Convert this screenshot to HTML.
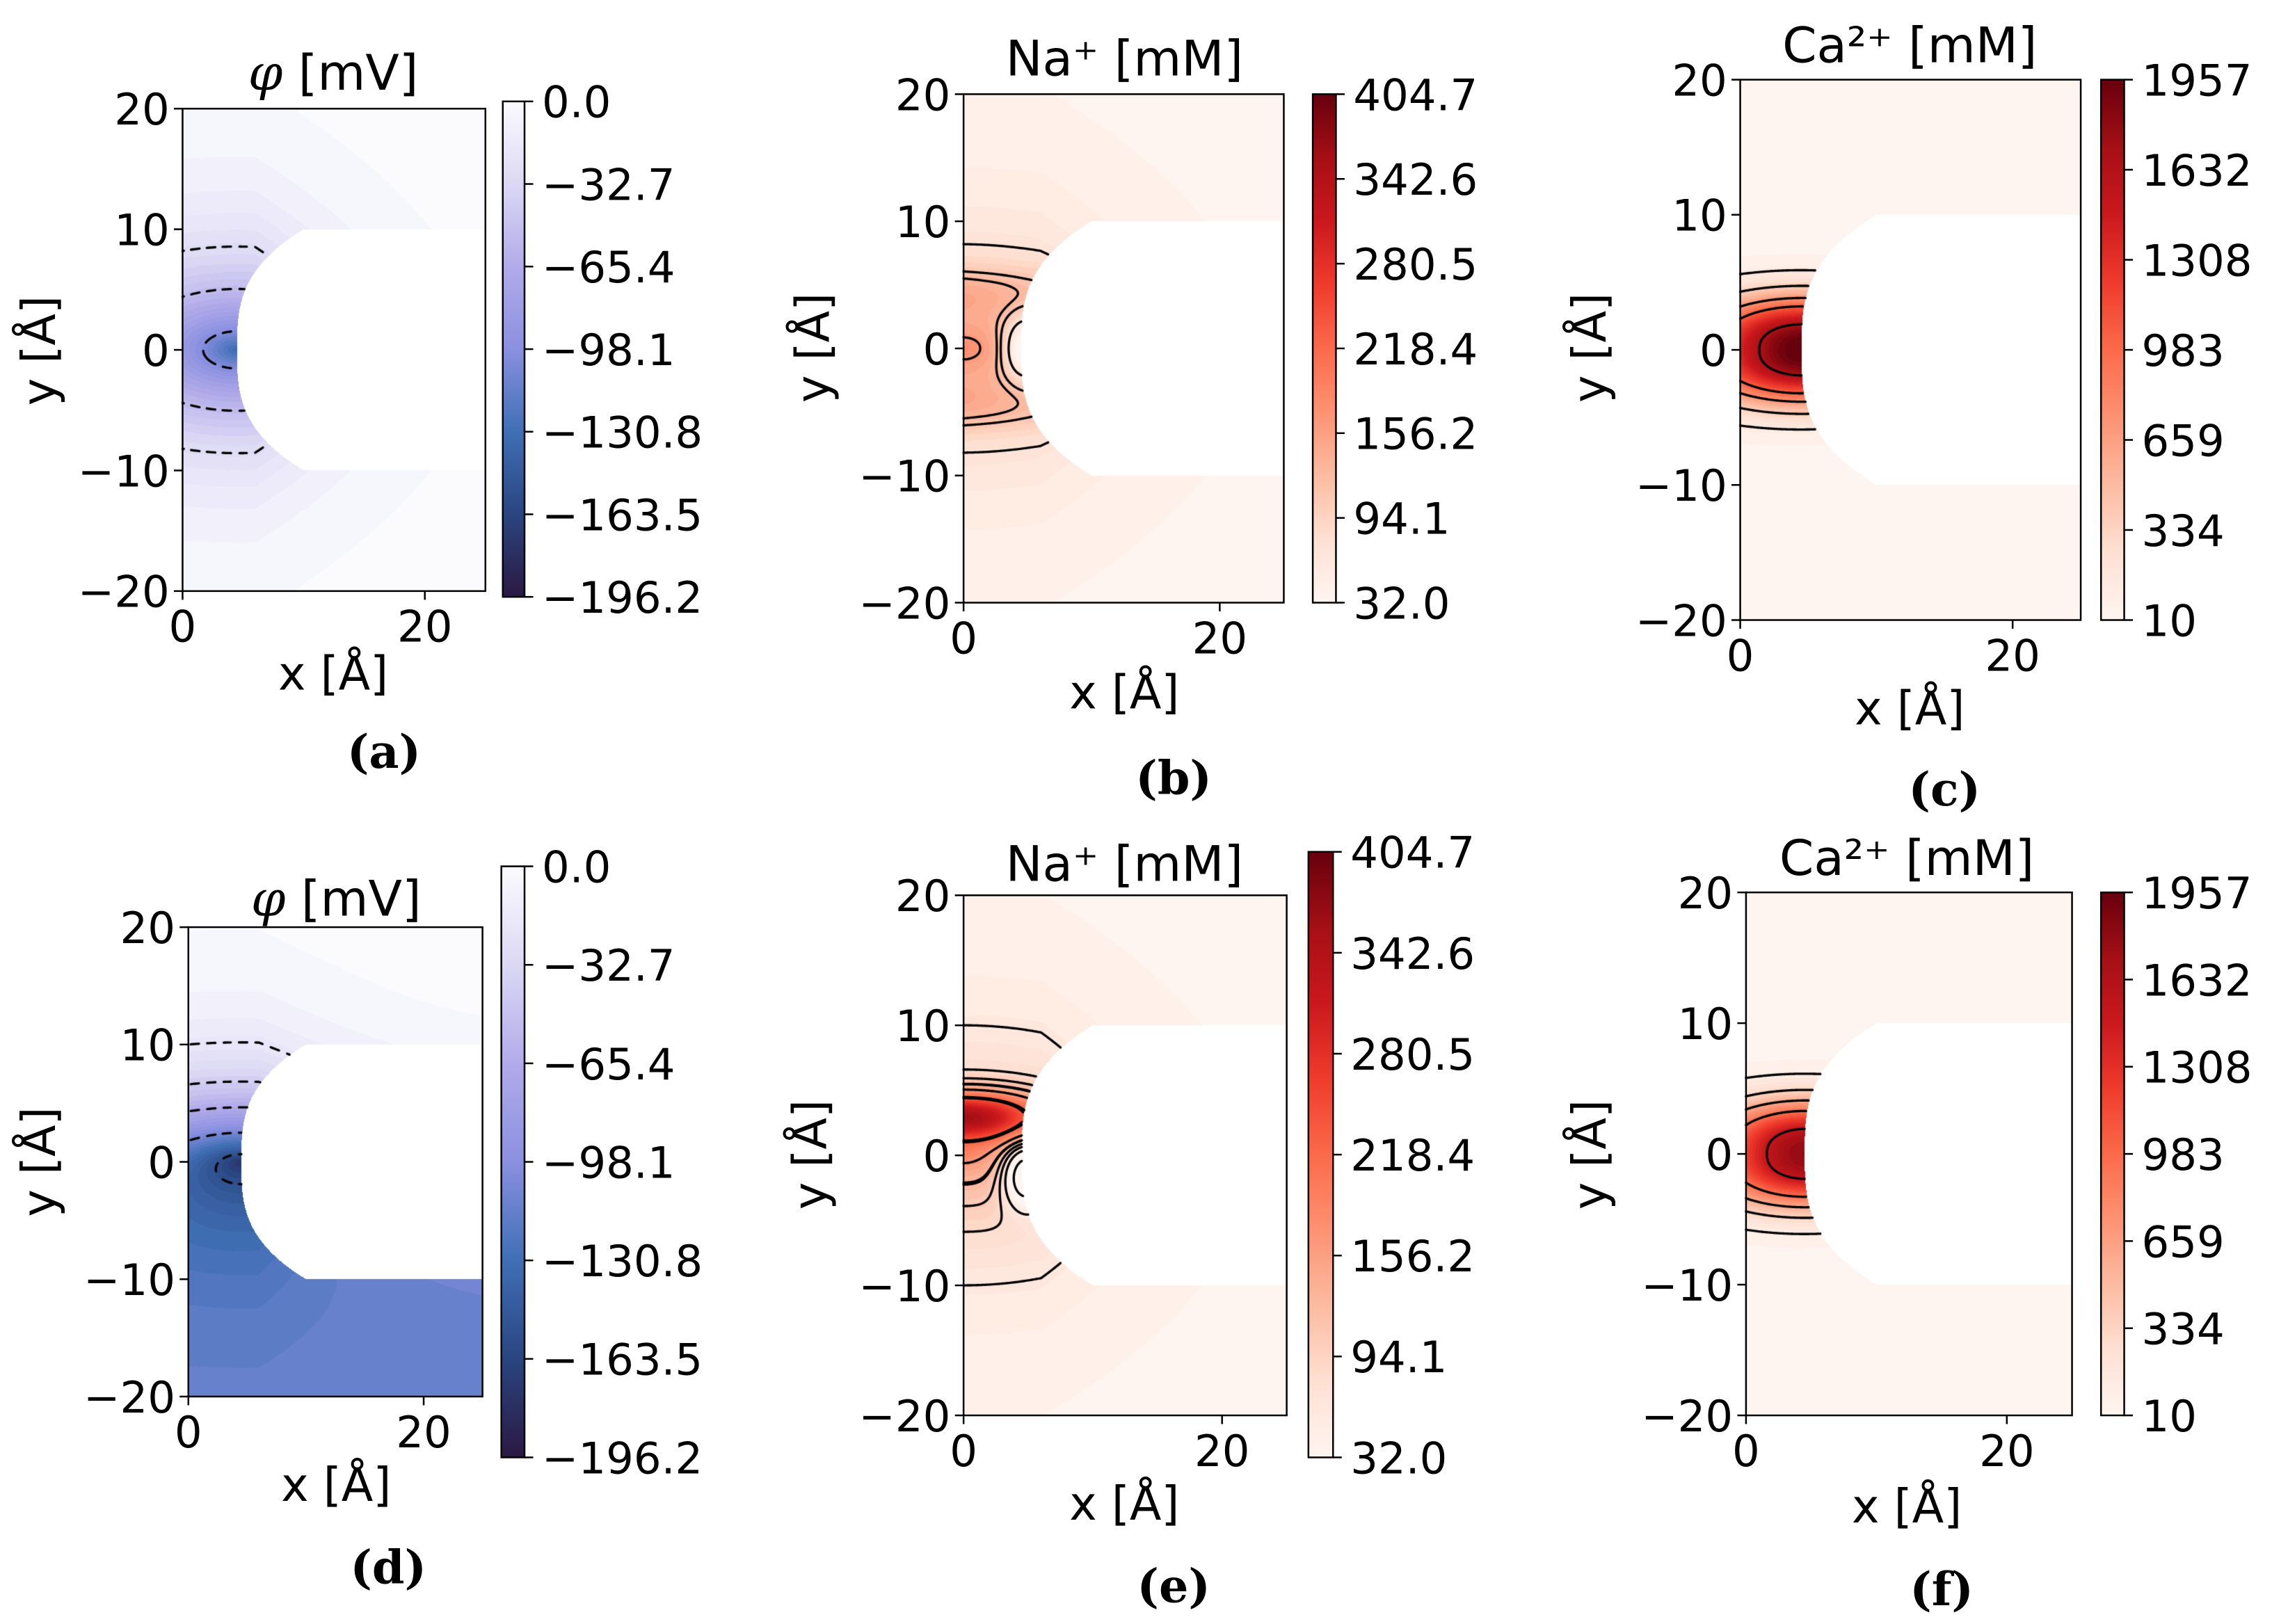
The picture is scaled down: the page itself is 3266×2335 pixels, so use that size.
<!DOCTYPE html>
<html><head><meta charset="utf-8">
<style>
html,body{margin:0;padding:0;background:#fff;}
#wrap{position:relative;width:3266px;height:2335px;overflow:hidden;}
canvas,svg{position:absolute;left:0;top:0;}
text{font-family:"DejaVu Sans","Liberation Sans",sans-serif;fill:#000;}
.tk{font-size:30px;}
.lab{font-size:32px;}
.ttl{font-size:34px;}
.pl{font-family:"DejaVu Serif","Liberation Serif",serif;font-size:32px;font-weight:bold;}
</style></head>
<body>
<div id="wrap">
<canvas id="cv" width="3266" height="2335"></canvas>
<svg id="sv" width="3266" height="2335" viewBox="0 0 1568 1121" preserveAspectRatio="none"></svg>
</div>
<script>
// ---- data ----
const panelIds = ['a','b','c','d','e','f'];
const panelTitles = ['φ [mV]','Na⁺ [mM]','Ca²⁺ [mM]','φ [mV]','Na⁺ [mM]','Ca²⁺ [mM]'];
const phiTicks = ['0.0','−32.7','−65.4','−98.1','−130.8','−163.5','−196.2'];
const naTicks = ['404.7','342.6','280.5','218.4','156.2','94.1','32.0'];
const caTicks = ['1957','1632','1308','983','659','334','10'];
const yTicks = [20,10,0,-10,-20];
const xTicks = [0,20];
const vRangeA = [-196.2,0], vRangeB=[32,404.7], vRangeC=[10,1957];
// contour anchor points (x,y in Å) where level lines pass
const anchorsA = [[0,8.2],[0,4.4],[1.7,0],[4.2,0]];
const anchorsB = [[0,8.2],[0,5.5],[0.5,0.8],[2.9,0]];
const anchorsC = [[0,5.6],[0,4.3],[0,3.2],[0,2.3],[1.4,0]];
const anchorsD = [[0,10],[0,6.6],[0,4.3],[0,1.8],[2.6,0]];
const anchorsE = [[0,10],[0,6.6],[0,5.5],[0,4.4],[0,1],[0,-0.6],[0,-2.1],[2.4,-2],[3.9,-1.5]];
const anchorsF = [[0,5.8],[0,4.4],[0,3.4],[0,2.2],[1.6,0]];

const S = 3266/1568;
const panels = [
 {id:'a',ax:[126,335,75,408],cb:[347,362,70,412],vr:vRangeA,cm:'blue',ticks:phiTicks,anch:anchorsA,dash:true,title:[230,62],xl:[230,476],yl:[38,242],pl:[265,530]},
 {id:'b',ax:[665,886,65,416],cb:[906,922,65,416],vr:vRangeB,cm:'red',ticks:naTicks,anch:anchorsB,dash:false,title:[776,52],xl:[776,489],yl:[572,240],pl:[810,548]},
 {id:'c',ax:[1201,1436,55,428],cb:[1450,1466,55,428],vr:vRangeC,cm:'red',ticks:caTicks,anch:anchorsC,dash:false,title:[1318,43],xl:[1318,500],yl:[1108,240],pl:[1342,556]},
 {id:'d',ax:[130,333,640,964],cb:[346,362,598,1006],vr:vRangeA,cm:'blue',ticks:phiTicks,anch:anchorsD,dash:true,title:[232,632],xl:[232,1036],yl:[38,802],pl:[268,1093]},
 {id:'e',ax:[665,888,618,977],cb:[903,920,588,1006],vr:vRangeB,cm:'red',ticks:naTicks,anch:anchorsE,dash:false,title:[776,608],xl:[776,1049],yl:[570,797],pl:[810,1106]},
 {id:'f',ax:[1205,1430,616,977],cb:[1450,1466,616,977],vr:vRangeC,cm:'red',ticks:caTicks,anch:anchorsF,dash:false,title:[1316,604],xl:[1316,1051],yl:[1108,797],pl:[1340,1108]}
];
const blueStops=[[0,'#2b1843'],[0.167,'#2a4580'],[0.333,'#3f6fb5'],[0.5,'#8a90e0'],[0.667,'#b2abea'],[0.833,'#dcd8f4'],[1,'#fbfbfe']];
const redStops=[[0,'#fff5f0'],[0.125,'#fee0d2'],[0.25,'#fcbba1'],[0.375,'#fc9272'],[0.5,'#fb6a4a'],[0.625,'#ef3b2c'],[0.75,'#cb181d'],[0.875,'#a50f15'],[1,'#67000d']];

function hex(h){return [parseInt(h.substr(1,2),16),parseInt(h.substr(3,2),16),parseInt(h.substr(5,2),16)];}
function cmap(stops,t){t=Math.max(0,Math.min(1,t));for(let i=1;i<stops.length;i++){if(t<=stops[i][0]){const a=stops[i-1],b=stops[i];const u=(t-a[0])/(b[0]-a[0]);const A=hex(a[1]),B=hex(b[1]);return [A[0]+(B[0]-A[0])*u,A[1]+(B[1]-A[1])*u,A[2]+(B[2]-A[2])*u];}}return hex(stops[stops.length-1][1]);}
function bnd(y){const a=Math.abs(y);return 4.5+5.5*Math.pow(a/10,3);}
function masked(x,y){return Math.abs(y)<10 && x>bnd(y);}
const fields={
 a:(x,y)=>{const r=Math.sqrt(Math.pow((x-4.5)*0.55,2)+y*y)+Math.max(0,x-6)*0.6;return -135*Math.exp(-r/5.5);},
 d:(x,y)=>{const r=Math.sqrt(Math.pow((x-4.5)*0.5,2)+y*y)+Math.max(0,x-6)*0.5;return -112/(1+Math.exp(y/3))-120*Math.exp(-r/5);},
 b:(x,y)=>{const r=Math.sqrt(x*x*0.3+y*y)+Math.max(0,x-6)*0.5;return 32+150*Math.exp(-r/6)+45*Math.exp(-Math.pow(Math.abs(y)-4.5,2)/4)*Math.exp(-x/15)-120*Math.exp(-((x-4.8)*(x-4.8)+y*y/2)/3);},
 e:(x,y)=>{const r=Math.sqrt(x*x*0.3+y*y)+Math.max(0,x-6)*0.5;return 32+140*Math.exp(-r/6)+240*Math.exp(-Math.pow(y-3,2)/3.5-x*x/40)-150*Math.exp(-((x-4.8)*(x-4.8)+Math.pow(y+1.5,2)/2)/3);},
 c:(x,y)=>10+1950*Math.exp(-(x-4.6)*(x-4.6)/55)*Math.exp(-Math.pow(Math.abs(y)/3.8,2.5))+50*Math.exp(-(Math.sqrt(x*x/4+y*y)+Math.max(0,x-6)*0.5)/4),
 f:(x,y)=>10+1750*Math.exp(-(x-4.6)*(x-4.6)/50)*Math.exp(-Math.pow(Math.abs(y)/3.9,2.5))+50*Math.exp(-(Math.sqrt(x*x/4+y*y)+Math.max(0,x-6)*0.5)/4)
};

const cv=document.getElementById('cv');const ctx=cv.getContext('2d');
const img=ctx.createImageData(3266,2335);const D=img.data;
for(let i=0;i<D.length;i+=4){D[i]=255;D[i+1]=255;D[i+2]=255;D[i+3]=255;}
panels.forEach(p=>{
 const [L,R,T,B]=p.ax;const f=fields[p.id];const stops=p.cm==='blue'?blueStops:redStops;
 const x0=Math.round(L*S),x1=Math.round(R*S),y0=Math.round(T*S),y1=Math.round(B*S);
 for(let py=y0;py<y1;py++){for(let px=x0;px<x1;px++){
  const dx=((px+0.5)/S-L)/(R-L)*25;const dy=20-((py+0.5)/S-T)/(B-T)*40;
  if(masked(dx,dy))continue;
  let t=(f(dx,dy)-p.vr[0])/(p.vr[1]-p.vr[0]);t=Math.round(t*40)/40;
  const c=cmap(stops,t);const k=(py*3266+px)*4;D[k]=c[0];D[k+1]=c[1];D[k+2]=c[2];
 }}
});
ctx.putImageData(img,0,0);
// contours via marching squares
ctx.setTransform(S,0,0,S,0,0);ctx.strokeStyle='#000';ctx.lineWidth=1.6;ctx.lineCap='round';
panels.forEach(p=>{
 const [L,R,T,B]=p.ax;const f=fields[p.id];const h=0.1;const nx=250,ny=400;
 const G=new Float64Array((nx+1)*(ny+1));
 for(let j=0;j<=ny;j++)for(let i=0;i<=nx;i++){const x=i*h,y=-20+j*h;G[j*(nx+1)+i]=masked(x,y)?NaN:f(x,y);}
 const X=x=>L+x/25*(R-L),Y=y=>T+(20-y)/40*(B-T);
 p.anch.forEach(a=>{
  const lev=f(a[0],a[1]);ctx.beginPath();
  for(let j=0;j<ny;j++)for(let i=0;i<nx;i++){
   const v=[G[j*(nx+1)+i],G[j*(nx+1)+i+1],G[(j+1)*(nx+1)+i+1],G[(j+1)*(nx+1)+i]];
   if(v.some(isNaN))continue;
   const P=[[i*h,-20+j*h],[(i+1)*h,-20+j*h],[(i+1)*h,-20+(j+1)*h],[i*h,-20+(j+1)*h]];
   const pts=[];
   for(let e=0;e<4;e++){const a1=v[e]-lev,b1=v[(e+1)%4]-lev;if((a1<0)!==(b1<0)){const u=a1/(a1-b1);pts.push([P[e][0]+(P[(e+1)%4][0]-P[e][0])*u,P[e][1]+(P[(e+1)%4][1]-P[e][1])*u]);}}
   for(let k=0;k+1<pts.length;k+=2){
    const ax=X(pts[k][0]),ay=Y(pts[k][1]),bx=X(pts[k+1][0]),by=Y(pts[k+1][1]);
    if(p.dash){const mx=(ax+bx)/2,my=(ay+by)/2;const q=Math.abs(bx-ax)>=Math.abs(by-ay)?mx:my;if(Math.floor(q/5.5)%2)continue;}
    ctx.moveTo(ax,ay);ctx.lineTo(bx,by);
   }
  }
  ctx.stroke();
 });
});

// ---- SVG axes ----
const NS='http://www.w3.org/2000/svg';const sv=document.getElementById('sv');
function el(tag,attrs,parent){const e=document.createElementNS(NS,tag);for(const k in attrs)e.setAttribute(k,attrs[k]);(parent||sv).appendChild(e);return e;}
const defs=el('defs',{});
panels.forEach((p,pi)=>{
 const g=el('g',{});
 
 
 const [L,R,T,B]=p.ax;
 const fr=el('rect',{x:L,y:T,width:R-L,height:B-T,fill:'none',stroke:'#000','stroke-width':1.2},g);
 
 
 yTicks.forEach(v=>{const y=T+(20-v)/40*(B-T);
  const tl=el('line',{x1:L-6,x2:L,y1:y,y2:y,stroke:'#000','stroke-width':1.2},g);
  
  
  const t=el('text',{x:L-9,y:y+11,'text-anchor':'end',class:'tk'},g);t.textContent=v<0?'−'+(-v):String(v);
  
  });
 xTicks.forEach(v=>{const x=L+v/25*(R-L);
  const tl=el('line',{x1:x,x2:x,y1:B,y2:B+6,stroke:'#000','stroke-width':1.2},g);
  
  
  const t=el('text',{x:x,y:B+35,'text-anchor':'middle',class:'tk'},g);t.textContent=String(v);
  
  });
 const ti=el('text',{x:p.title[0],y:p.title[1],'text-anchor':'middle',class:'ttl'},g);
 const tt=panelTitles[pi];
 if(tt.startsWith('φ')){const s1=el('tspan',{'font-style':'italic','font-family':'DejaVu Serif, Liberation Serif, serif'},ti);s1.textContent='φ';const s2=el('tspan',{},ti);s2.textContent=tt.slice(1);}
 else ti.textContent=tt;
 
 
 const xl=el('text',{x:p.xl[0],y:p.xl[1],'text-anchor':'middle',class:'lab'},g);xl.textContent='x [Å]';
 
 
 const yl=el('text',{x:p.yl[0],y:p.yl[1],'text-anchor':'middle',class:'lab',transform:'rotate(-90 '+p.yl[0]+' '+p.yl[1]+')'},g);yl.textContent='y [Å]';
 
 
 const pl=el('text',{x:p.pl[0],y:p.pl[1],'text-anchor':'middle',class:'pl'},g);pl.textContent='('+p.id+')';
 
 
 // colorbar
 const stops=p.cm==='blue'?blueStops:redStops;
 const gr=el('linearGradient',{id:'g'+p.id,x1:0,y1:1,x2:0,y2:0},defs);
 stops.forEach(s=>el('stop',{offset:s[0],'stop-color':s[1]},gr));
 const [cl,cr,ct,cb]=p.cb;
 const cbr=el('rect',{x:cl,y:ct,width:cr-cl,height:cb-ct,fill:'url(#g'+p.id+')',stroke:'#000','stroke-width':1.2},g);
 
 
 p.ticks.forEach((s,k)=>{const y=ct+k/(p.ticks.length-1)*(cb-ct);
  const tl=el('line',{x1:cr,x2:cr+6,y1:y,y2:y,stroke:'#000','stroke-width':1.2},g);
  
  
  const t=el('text',{x:cr+12,y:y+11,class:'tk'},g);t.textContent=s;
  
  });
});
</script>
</body></html>
